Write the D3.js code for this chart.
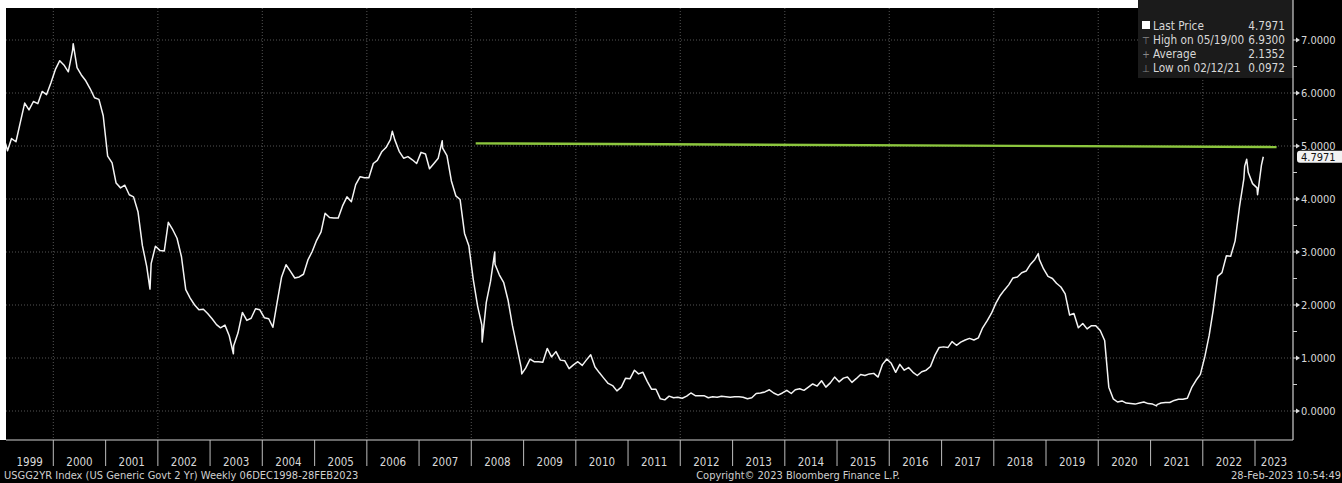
<!DOCTYPE html>
<html>
<head>
<meta charset="utf-8">
<script src="https://cdn.jsdelivr.net/npm/d3@7"></script>
<style>
  html, body { margin: 0; padding: 0; background: #000; }
  svg { display: block; }
  text { font-family: "DejaVu Sans Condensed", "Liberation Sans Narrow", "Liberation Sans", sans-serif; }
</style>
</head>
<body>
<div id="chart"></div>
<script>
////////////////////////////////////////////////////////
//////////////////// Data //////////////////////////////
////////////////////////////////////////////////////////

// monthly level of the 2 yr generic, starting Feb 1999 (one row per year)
let startMonth = [1999, 1];
let monthlyYield = [
  4.91, 5.14, 5.08, 5.44, 5.81, 5.68, 5.84, 5.80, 6.03, 5.97, 6.19,
  6.44, 6.61, 6.53, 6.40, 6.81, 6.48, 6.34, 6.23, 6.08, 5.91, 5.88, 5.57,
  4.81, 4.68, 4.30, 4.21, 4.26, 4.08, 4.04, 3.76, 3.12, 2.73, 2.78, 3.11,
  3.03, 3.02, 3.56, 3.42, 3.26, 2.91, 2.29, 2.13, 2.00, 1.91, 1.92, 1.84,
  1.74, 1.63, 1.57, 1.62, 1.42, 1.23, 1.47, 1.86, 1.71, 1.75, 1.93, 1.91,
  1.76, 1.74, 1.58, 2.07, 2.53, 2.76, 2.64, 2.51, 2.53, 2.58, 2.85, 3.01,
  3.22, 3.38, 3.73, 3.65, 3.64, 3.64, 3.87, 4.04, 3.95, 4.27, 4.42, 4.40,
  4.40, 4.67, 4.73, 4.89, 4.97, 5.12, 5.12, 4.90, 4.77, 4.80, 4.74, 4.67,
  4.88, 4.85, 4.57, 4.67, 4.77, 4.96, 4.82, 4.34, 4.06, 3.99, 3.35, 3.12,
  2.48, 1.97, 1.62, 2.05, 2.45, 2.77, 2.57, 2.42, 2.08, 1.61, 1.21, 0.82,
  0.81, 0.98, 0.93, 0.93, 0.92, 1.18, 1.02, 1.12, 0.96, 0.95, 0.80, 0.87,
  0.93, 0.86, 0.96, 1.06, 0.83, 0.72, 0.62, 0.52, 0.48, 0.38, 0.45, 0.62,
  0.61, 0.77, 0.70, 0.73, 0.56, 0.41, 0.41, 0.23, 0.21, 0.28, 0.25, 0.26,
  0.24, 0.28, 0.34, 0.29, 0.29, 0.29, 0.25, 0.27, 0.26, 0.28, 0.27, 0.26,
  0.27, 0.27, 0.26, 0.23, 0.25, 0.33, 0.34, 0.36, 0.40, 0.34, 0.30, 0.34,
  0.39, 0.33, 0.40, 0.42, 0.39, 0.45, 0.51, 0.47, 0.57, 0.45, 0.53, 0.64,
  0.55, 0.62, 0.64, 0.54, 0.61, 0.69, 0.67, 0.70, 0.71, 0.64, 0.88, 0.98,
  0.90, 0.73, 0.88, 0.77, 0.82, 0.73, 0.67, 0.74, 0.77, 0.84, 1.05, 1.20,
  1.21, 1.20, 1.31, 1.24, 1.30, 1.34, 1.37, 1.34, 1.38, 1.57, 1.70, 1.84,
  2.03, 2.18, 2.28, 2.38, 2.51, 2.53, 2.61, 2.64, 2.77, 2.86, 2.86, 2.68,
  2.54, 2.50, 2.41, 2.34, 2.21, 1.81, 1.84, 1.57, 1.65, 1.55, 1.61, 1.61,
  1.52, 1.33, 0.45, 0.23, 0.17, 0.19, 0.15, 0.14, 0.13, 0.15, 0.17, 0.14,
  0.13, 0.12, 0.15, 0.16, 0.16, 0.20, 0.22, 0.22, 0.24, 0.44, 0.58, 0.69,
  1.02, 1.43, 1.91, 2.54, 2.61, 2.93, 2.92, 3.21, 3.86, 4.38, 4.50, 4.29,
  4.21, 4.64
];

// weekly spikes
let spikeDates = ["1999-02-01", "2000-05-19", "2001-11-07", "2003-06-13", "2006-06-28",
                  "2007-06-12", "2008-03-17", "2008-06-13", "2008-12-19", "2018-11-08",
                  "2021-02-12", "2022-10-21", "2022-11-04", "2023-01-19", "2023-02-28"];
let spikeValues = [5.05, 6.93, 2.30, 1.08, 5.28,
                   5.10, 1.30, 3.00, 0.70, 2.97,
                   0.0972, 4.62, 4.75, 4.08, 4.7971];

// green horizontal drawn on the chart
let guideDates = ["2008-02-01", "2023-06-01"];
let guideValues = [5.05, 4.98];

let yearLabels = ["1999", "2000", "2001", "2002", "2003", "2004", "2005", "2006", "2007", "2008", "2009", "2010",
                  "2011", "2012", "2013", "2014", "2015", "2016", "2017", "2018", "2019", "2020", "2021", "2022", "2023"];
let yTicks = [0, 1, 2, 3, 4, 5, 6, 7];
let yMinor = [0.5, 1.5, 2.5, 3.5, 4.5, 5.5, 6.5];

let legendLabels = ["Last Price", "High on 05/19/00", "Average", "Low on 02/12/21"];
let legendValues = ["4.7971", "6.9300", "2.1352", "0.0972"];
let legendSymbols = ["", "\u22A4", "+", "\u22A5"];
let lastPrice = 4.7971;

////////////////////////////////////////////////////////
//////////////////// Setup /////////////////////////////
////////////////////////////////////////////////////////

let width = 1342;
let height = 483;
let plot = ({ left: 6, right: 1293, top: 8, bottom: 440 });
let textColor = "#d8d8d8";

let parse = d3.timeParse("%Y-%m-%d");

let data = monthlyYield.map((v, i) => ({
  date: new Date(startMonth[0], startMonth[1] + i, 15),
  value: v
}));
spikeDates.forEach((d, i) => data.push({ date: parse(d), value: spikeValues[i] }));
data.sort((a, b) => a.date - b.date);

let x = d3.scaleTime()
  .domain([new Date(2000, 0, 1), new Date(2023, 0, 1)])
  .range([53.3, 1255]);

let y = d3.scaleLinear()
  .domain([0, 7])
  .range([411, 40]);

let line = d3.line()
  .x(d => x(d.date))
  .y(d => y(d.value));

/////////////////////////////////////////////////////////
//////////////////// Creating the figure ////////////////
/////////////////////////////////////////////////////////

const svg = d3.select("#chart").append("svg")
  .attr("width", width)
  .attr("height", height)
  .attr("viewBox", [0, 0, width, height]);

svg.append("rect")
  .attr("width", width).attr("height", height).attr("fill", "#000");

// white page edge top / left
svg.append("rect")
  .attr("x", 0).attr("y", 0).attr("width", 1138).attr("height", plot.top).attr("fill", "#fff");
svg.append("rect")
  .attr("x", 0).attr("y", 0).attr("width", plot.left).attr("height", plot.bottom).attr("fill", "#fff");

svg.append("defs").append("clipPath").attr("id", "clip")
  .append("rect")
  .attr("x", plot.left).attr("y", plot.top)
  .attr("width", plot.right - plot.left).attr("height", plot.bottom - plot.top);

// grid
let evenYears = yearLabels.filter(d => +d >= 2000 && +d <= 2022 && +d % 2 === 0);

svg.append("g")
  .selectAll("line")
  .data(evenYears)
  .join("line")
  .attr("x1", d => x(new Date(+d, 0, 1)))
  .attr("x2", d => x(new Date(+d, 0, 1)))
  .attr("y1", plot.top)
  .attr("y2", plot.bottom)
  .attr("stroke", "#555")
  .attr("stroke-width", 1)
  .attr("stroke-dasharray", "1,2");

svg.append("g")
  .selectAll("line")
  .data(yTicks)
  .join("line")
  .attr("x1", plot.left)
  .attr("x2", plot.right)
  .attr("y1", d => y(d))
  .attr("y2", d => y(d))
  .attr("stroke", "#555")
  .attr("stroke-width", 1)
  .attr("stroke-dasharray", "1,2");

// legend box
svg.append("rect")
  .attr("x", 1138).attr("y", 0)
  .attr("width", plot.right - 1138).attr("height", 78)
  .attr("fill", "#1b1b1b");

// series
svg.append("path")
  .datum(data)
  .attr("clip-path", "url(#clip)")
  .attr("fill", "none")
  .attr("stroke", "#f4f4f4")
  .attr("stroke-width", 1.5)
  .attr("stroke-linejoin", "round")
  .attr("d", line);

// green guide
svg.append("path")
  .datum(guideDates.map((d, i) => ({ date: parse(d), value: guideValues[i] })))
  .attr("clip-path", "url(#clip)")
  .attr("fill", "none")
  .attr("stroke", "#8cc63e")
  .attr("stroke-width", 2.4)
  .attr("d", line);

// legend rows
let rowY = i => 30 + i * 14;
const legend = svg.append("g");
legend.append("rect")
  .attr("x", 1142).attr("y", 21).attr("width", 8).attr("height", 8).attr("fill", "#fff");
legend.selectAll(".sym")
  .data(legendSymbols)
  .join("text")
  .attr("class", "sym")
  .attr("x", 1146)
  .attr("y", (d, i) => rowY(i))
  .attr("text-anchor", "middle")
  .attr("font-size", 10)
  .attr("fill", "#888")
  .text(d => d);
legend.selectAll(".lab")
  .data(legendLabels)
  .join("text")
  .attr("class", "lab")
  .attr("x", 1153)
  .attr("y", (d, i) => rowY(i))
  .attr("font-size", 11.7)
  .attr("fill", textColor)
  .text(d => d);
legend.selectAll(".val")
  .data(legendValues)
  .join("text")
  .attr("class", "val")
  .attr("x", 1285)
  .attr("y", (d, i) => rowY(i))
  .attr("text-anchor", "end")
  .attr("font-size", 11.7)
  .attr("fill", textColor)
  .text(d => d);

// frame: bottom and right axis lines
svg.append("line")
  .attr("x1", plot.left).attr("x2", plot.right)
  .attr("y1", plot.bottom).attr("y2", plot.bottom)
  .attr("stroke", "#cfcfcf").attr("stroke-width", 1.2);
svg.append("line")
  .attr("x1", plot.right).attr("x2", plot.right)
  .attr("y1", 0).attr("y2", plot.bottom)
  .attr("stroke", "#cfcfcf").attr("stroke-width", 1.2);

// right axis
const yAxis = svg.append("g");
yAxis.selectAll(".minor")
  .data(yMinor)
  .join("line")
  .attr("class", "minor")
  .attr("x1", plot.right).attr("x2", plot.right + 4)
  .attr("y1", d => y(d)).attr("y2", d => y(d))
  .attr("stroke", "#cfcfcf");
yAxis.selectAll(".tick")
  .data(yTicks)
  .join("path")
  .attr("class", "tick")
  .attr("d", d => `M${plot.right},${y(d) - 0.5}h3v-2l4,2.5l-4,2.5v-2h-3z`)
  .attr("fill", "#dcdcdc");
yAxis.selectAll("text")
  .data(yTicks)
  .join("text")
  .attr("x", plot.right + 8)
  .attr("y", d => y(d) + 4)
  .attr("font-size", 11)
  .attr("fill", textColor)
  .text(d => d3.format(".4f")(d));

// last price tag
svg.append("rect")
  .attr("x", plot.right + 4).attr("y", y(lastPrice) - 6)
  .attr("width", 60).attr("height", 12).attr("rx", 3)
  .attr("fill", "#f2f2f2");
svg.append("text")
  .attr("x", plot.right + 8).attr("y", y(lastPrice) + 4)
  .attr("font-size", 11)
  .attr("fill", "#111")
  .text(d3.format(".4f")(lastPrice));

// x axis band
let yearStarts = yearLabels.slice(1).map(d => x(new Date(+d, 0, 1)));
svg.append("g")
  .selectAll("line")
  .data(yearStarts)
  .join("line")
  .attr("x1", d => d).attr("x2", d => d)
  .attr("y1", plot.bottom).attr("y2", 466)
  .attr("stroke", "#bdbdbd").attr("stroke-width", 1);

svg.append("g")
  .selectAll("text")
  .data(yearLabels)
  .join("text")
  .attr("x", d => {
    let a = Math.max(plot.left, x(new Date(+d, 0, 1)));
    let b = Math.min(plot.right, x(new Date(+d + 1, 0, 1)));
    return (a + b) / 2;
  })
  .attr("y", 466)
  .attr("text-anchor", "middle")
  .attr("font-size", 11.5)
  .attr("fill", textColor)
  .text(d => d);

// footer
const footer = svg.append("g")
  .attr("font-size", 11)
  .attr("fill", "#cfcfcf");
footer.append("text")
  .attr("x", 4).attr("y", 479)
  .text("USGG2YR Index (US Generic Govt 2 Yr)  Weekly 06DEC1998-28FEB2023");
footer.append("text")
  .attr("x", 798).attr("y", 479)
  .attr("text-anchor", "middle")
  .text("Copyright\u00A9 2023 Bloomberg Finance L.P.");
footer.append("text")
  .attr("x", 1341).attr("y", 479)
  .attr("text-anchor", "end")
  .text("28-Feb-2023 10:54:49");
</script>
</body>
</html>
